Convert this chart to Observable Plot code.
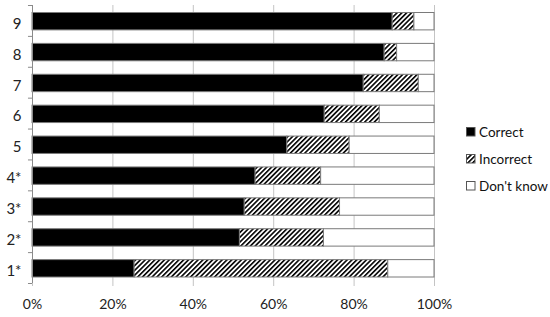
<!DOCTYPE html>
<html><head><meta charset="utf-8">
<script src="https://cdn.jsdelivr.net/npm/d3@7"></script>
<script src="https://cdn.jsdelivr.net/npm/@observablehq/plot@0.6"></script>
<style>
body{margin:0;background:#fff;}
#wrap{position:relative;width:550px;height:317px;font-family:Lato,"Open Sans",sans-serif;}
#legend{position:absolute;left:466px;top:118px;font-size:13.5px;color:#111;}
.item{display:flex;align-items:center;height:27px;}
.item svg{margin-right:3px;}
</style></head><body><div id="wrap"><div id="legend"></div></div>
<script>
const categories = ["9","8","7","6","5","4*","3*","2*","1*"];
const correct   = [89.6, 87.6, 82.4, 72.7, 63.4, 55.5, 52.8, 51.6, 25.4];
const incorrect = [5.4, 3.1, 13.7, 13.7, 15.5, 16.3, 23.7, 20.9, 63.1];
const dontKnow  = [5.0, 9.3, 3.9, 13.6, 21.1, 28.2, 23.5, 27.5, 11.5];
const seriesNames = ["Correct", "Incorrect", "Don't know"];
const xTicks = [0, 20, 40, 60, 80, 100];

const seriesValues = [correct, incorrect, dontKnow];
const rows = [];
categories.forEach((c, i) => {
  let acc = 0;
  seriesValues.forEach((vals, s) => {
    rows.push({cat: c, i0: i, i1: i + 1, series: seriesNames[s], x1: acc, x2: acc + vals[i]});
    acc += vals[i];
  });
});
const centers = categories.map((c, i) => i + 0.5);
const bounds = d3.range(categories.length + 1);

const plot = Plot.plot({
  width: 550, height: 317,
  marginLeft: 32, marginRight: 116, marginTop: 5, marginBottom: 34,
  style: {fontFamily: "Lato, 'Open Sans', sans-serif", color: "#222", background: "#fff"},
  x: {domain: [0, 100]},
  y: {domain: [0, categories.length], reverse: true},
  color: {domain: seriesNames, range: ["#000", "url(#hatch)", "#fff"]},
  marks: [
    Plot.gridX(xTicks, {stroke: "#c4c4c4", strokeOpacity: 1}),
    Plot.rectX(rows, {x1: "x1", x2: "x2", y1: "i0", y2: "i1", fill: "series", stroke: "#7a7a7a", strokeWidth: 1, insetTop: 7.5, insetBottom: 6}),
    Plot.ruleX([0], {stroke: "#8a8a8a"}),
    Plot.ruleY(bounds, {x1: -1, x2: 0, stroke: "#8a8a8a"}),
    Plot.axisX(xTicks, {tickFormat: d => d + "%", tickSize: 3, stroke: "#c4c4c4", tickPadding: 13, fontSize: 14, fill: "#222"}),
    Plot.axisY(centers, {tickFormat: d => categories[Math.floor(d)], tickSize: 0, tickPadding: 11, fontSize: 15, fill: "#222", dy: 3})
  ]
});
const ns = "http://www.w3.org/2000/svg";
const defs = document.createElementNS(ns, "defs");
defs.innerHTML = '<pattern id="hatch" patternUnits="userSpaceOnUse" width="3.4" height="3.4" patternTransform="rotate(45)"><rect width="3.4" height="3.4" fill="#fff"/><rect width="1.6" height="3.4" fill="#000"/></pattern>';
plot.insertBefore(defs, plot.firstChild);
document.getElementById("wrap").insertBefore(plot, document.getElementById("legend"));

const swatchFill = ["#000", "url(#hatch)", "#fff"];
const legend = d3.select("#legend");
seriesNames.forEach((name, s) => {
  const item = legend.append("div").attr("class", "item");
  const sv = item.append("svg").attr("width", 10).attr("height", 10);
  sv.append("rect").attr("x", 0.5).attr("y", 0.5).attr("width", 8.5).attr("height", 8.5)
    .attr("fill", swatchFill[s]).attr("stroke", "#555");
  item.append("span").text(name);
});
</script></body></html>
